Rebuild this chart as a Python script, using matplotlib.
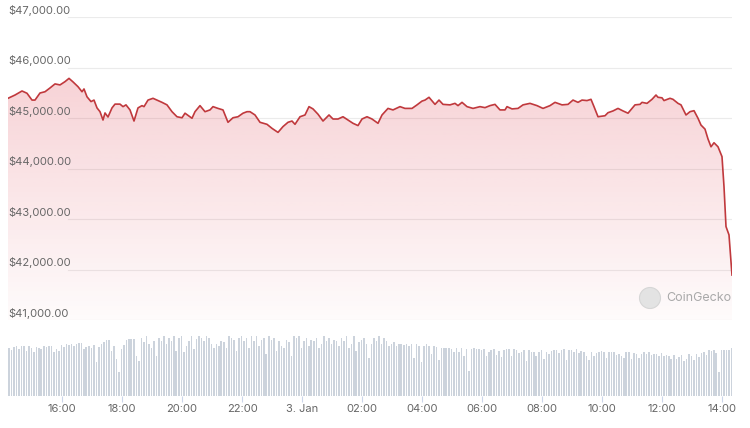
import numpy as np
import pandas as pd
import matplotlib
matplotlib.use("Agg")
import matplotlib.pyplot as plt
import matplotlib.dates as mdates
from matplotlib.patches import Polygon, Circle

# ── Data ─────────────────────────────────────────────────────────────────────
PRICE_TIMES = [
    "14:12", "14:26", "14:40", "14:50", "15:00", "15:06", "15:16", "15:26", "15:36", "15:46",
    "15:56", "16:06", "16:14", "16:22", "16:32", "16:40", "16:44", "16:50", "16:58", "17:04",
    "17:10", "17:16", "17:22", "17:26", "17:32", "17:40", "17:46", "17:56", "18:02", "18:08",
    "18:16", "18:24", "18:32", "18:40", "18:44", "18:52", "19:02", "19:10", "19:20", "19:30",
    "19:40", "19:50", "20:00", "20:06", "20:16", "20:20", "20:26", "20:36", "20:46", "20:56",
    "21:02", "21:12", "21:22", "21:32", "21:42", "21:52", "22:02", "22:10", "22:16", "22:26",
    "22:36", "22:50", "23:00", "23:12", "23:22", "23:32", "23:40", "23:46", "23:56", "00:06",
    "00:14", "00:22", "00:32", "00:42", "00:54", "01:02", "01:12", "01:22", "01:32", "01:42",
    "01:52", "02:00", "02:10", "02:20", "02:32", "02:40", "02:52", "03:02", "03:16", "03:26",
    "03:40", "03:50", "04:00", "04:06", "04:14", "04:26", "04:34", "04:42", "04:56", "05:06",
    "05:12", "05:20", "05:30", "05:42", "05:56", "06:06", "06:16", "06:26", "06:36", "06:46",
    "06:50", "07:00", "07:12", "07:22", "07:36", "07:50", "08:02", "08:16", "08:26", "08:40",
    "08:52", "09:02", "09:12", "09:20", "09:30", "09:38", "09:44", "09:52", "10:06", "10:12",
    "10:22", "10:32", "10:42", "10:52", "11:00", "11:06", "11:16", "11:20", "11:30", "11:40",
    "11:48", "11:52", "12:00", "12:04", "12:16", "12:22", "12:32", "12:38", "12:48", "12:56",
    "13:04", "13:12", "13:18", "13:26", "13:32", "13:38", "13:44", "13:52", "14:00", "14:04",
    "14:08", "14:14", "14:20",
]
PRICES = [
    45390, 45455, 45535, 45490, 45355, 45355, 45495, 45520, 45595, 45675,
    45655, 45720, 45785, 45715, 45620, 45520, 45575, 45420, 45325, 45355,
    45200, 45125, 44960, 45100, 45020, 45200, 45275, 45275, 45225, 45260,
    45160, 44940, 45200, 45245, 45225, 45355, 45390, 45355, 45310, 45260,
    45125, 45025, 45005, 45095, 45025, 44995, 45125, 45245, 45125, 45160,
    45225, 45190, 45160, 44915, 45005, 45025, 45095, 45125, 45125, 45060,
    44915, 44875, 44795, 44715, 44830, 44915, 44940, 44875, 45025, 45060,
    45225, 45180, 45075, 44940, 45060, 44980, 44980, 45025, 44960, 44895,
    44850, 44980, 45025, 44980, 44895, 45060, 45190, 45160, 45225, 45190,
    45190, 45260, 45335, 45355, 45410, 45270, 45355, 45270, 45260, 45290,
    45245, 45310, 45225, 45190, 45225, 45205, 45245, 45270, 45160, 45160,
    45225, 45180, 45190, 45260, 45290, 45245, 45190, 45245, 45310, 45260,
    45270, 45355, 45310, 45355, 45345, 45370, 45225, 45025, 45045, 45105,
    45140, 45190, 45140, 45095, 45190, 45260, 45270, 45310, 45290, 45370,
    45455, 45410, 45400, 45345, 45390, 45370, 45290, 45260, 45060, 45125,
    45145, 44995, 44860, 44780, 44585, 44430, 44510, 44430, 44235, 43640,
    42850, 42685, 41890,
]

# 5-minute volume bars (relative units), one row per hour from 14:12
VOLUME = [
    48, 46, 49, 50, 47, 50, 50, 45, 50, 48, 44, 49,
    48, 47, 50, 49, 50, 50, 44, 47, 45, 51, 49, 52,
    51, 52, 50, 52, 53, 53, 47, 49, 50, 48, 51, 34,
    49, 52, 54, 56, 56, 45, 50, 37, 24, 47, 51, 56,
    57, 57, 57, 40, 35, 58, 54, 60, 52, 48, 55, 40,
    58, 55, 60, 52, 58, 55, 60, 45, 58, 60, 44, 50,
    55, 60, 47, 57, 60, 58, 55, 60, 58, 52, 48, 52,
    50, 55, 54, 48, 60, 58, 56, 45, 58, 60, 55, 58,
    48, 60, 55, 60, 50, 56, 58, 42, 60, 56, 58, 45,
    55, 50, 48, 56, 54, 40, 60, 58, 60, 48, 55, 58,
    50, 56, 55, 58, 48, 52, 60, 55, 58, 52, 56, 55,
    50, 58, 55, 60, 48, 52, 60, 45, 54, 56, 58, 52,
    38, 52, 58, 55, 60, 52, 58, 55, 50, 52, 54, 50,
    52, 52, 51, 52, 50, 52, 38, 52, 50, 34, 50, 52,
    50, 42, 50, 49, 36, 48, 48, 48, 48, 47, 44, 48,
    44, 48, 40, 47, 25, 47, 48, 47, 47, 46, 47, 40,
    44, 46, 47, 41, 45, 39, 46, 47, 47, 40, 47, 46,
    43, 44, 46, 35, 46, 44, 44, 40, 44, 46, 37, 44,
    42, 45, 46, 46, 43, 46, 47, 36, 46, 46, 44, 47,
    43, 45, 44, 40, 36, 44, 40, 43, 44, 45, 44, 38,
    44, 44, 44, 41, 42, 40, 38, 44, 44, 37, 43, 42,
    38, 42, 44, 42, 44, 41, 42, 42, 40, 43, 40, 41,
    40, 37, 41, 37, 39, 41, 35, 37, 42, 40, 36, 42,
    39, 43, 44, 41, 46, 45, 46, 43, 24, 46, 46, 46,
    46, 48,
]

PRICE_TICKS = [41000, 42000, 43000, 44000, 45000, 46000, 47000]
START = "2024-01-02 14:12"
END = "2024-01-03 14:20"

# ── Style ────────────────────────────────────────────────────────────────────
C_LINE = "#c0393d"
C_FILL = (220 / 255, 53 / 255, 69 / 255)
C_BAR = "#ccd3dc"
C_TEXT = "#666666"
C_GRID = "#ebebeb"

plt.rcParams["font.family"] = ["Inter", "DejaVu Sans"]


def to_datetimes(hhmm, start_day="2024-01-02"):
    out, day, prev = [], pd.Timestamp(start_day), None
    for s in hhmm:
        t = pd.Timestamp(f"{day.date()} {s}")
        if prev is not None and t < prev:
            day += pd.Timedelta(days=1)
            t += pd.Timedelta(days=1)
        out.append(t)
        prev = t
    return out


W, H = 750, 428
fig = plt.figure(figsize=(W / 100, H / 100), dpi=100)

x0 = mdates.date2num(pd.Timestamp(START))
x1 = mdates.date2num(pd.Timestamp(END))

# ── Price panel ──────────────────────────────────────────────────────────────
ax = fig.add_axes([8 / W, 1 - 320 / H, 724 / W, 303 / H])
t_price = mdates.date2num(to_datetimes(PRICE_TIMES))
p = np.array(PRICES, dtype=float)

# gradient area under the line
alpha = np.linspace(0.27, 0.02, 256)
rgba = np.zeros((256, 1, 4))
rgba[..., 0], rgba[..., 1], rgba[..., 2] = C_FILL
rgba[:, 0, 3] = alpha
im = ax.imshow(rgba, extent=[x0, x1, 41000, 47000], aspect="auto",
               origin="upper", zorder=1, interpolation="bilinear")
verts = [(t_price[0], 41000)] + list(zip(t_price, p)) + [(t_price[-1], 41000)]
poly = Polygon(verts, closed=True, facecolor="none", edgecolor="none")
ax.add_patch(poly)
im.set_clip_path(poly)

ax.plot(t_price, p, color=C_LINE, lw=1.2, zorder=3, solid_joinstyle="round")

gx0 = (68 - 8) / 724
for v in PRICE_TICKS:
    ax.axhline(v, xmin=gx0, xmax=1.0, color=C_GRID, lw=0.8, zorder=0.5)
    ax.text(0, v + 25, f"${v:,.2f}", transform=ax.get_yaxis_transform(),
            ha="left", va="bottom", fontsize=8, color=C_TEXT, zorder=4)

ax.set_xlim(x0, x1)
ax.set_ylim(41000, 47000)
ax.axis("off")

# ── Volume panel ─────────────────────────────────────────────────────────────
axv = fig.add_axes([8 / W, 1 - 396 / H, 724 / W, 60 / H])
t_vol = mdates.date2num(pd.date_range(START, periods=len(VOLUME), freq="5min"))
axv.bar(t_vol, VOLUME, width=3.4 / 1440, align="edge", color=C_BAR, lw=0)
axv.set_xlim(x0, x1)
axv.set_ylim(0, 60)
for s in axv.spines.values():
    s.set_visible(False)
axv.set_yticks([])

ticks = pd.date_range("2024-01-02 16:00", "2024-01-03 14:00", freq="2h")
axv.set_xticks(mdates.date2num(ticks))
axv.set_xticklabels(["3. Jan" if t.hour == 0 else t.strftime("%H:%M") for t in ticks])
axv.tick_params(axis="x", length=4, width=0.8, color="#ccd6eb",
                labelcolor=C_TEXT, labelsize=8, pad=1.5)

# ── Watermark ────────────────────────────────────────────────────────────────
fig.add_artist(Circle((650 / 100, (H - 298) / 100), 0.105,
                      transform=fig.dpi_scale_trans, facecolor="#e3e3e3",
                      edgecolor="#d6d6d6", lw=0.8, zorder=5))
fig.text(666 / W, 1 - 298 / H, "CoinGecko", ha="left", va="center",
         fontsize=9, color="#a9a9a9", zorder=5)

fig.savefig("out.png", dpi=100, facecolor="white")
